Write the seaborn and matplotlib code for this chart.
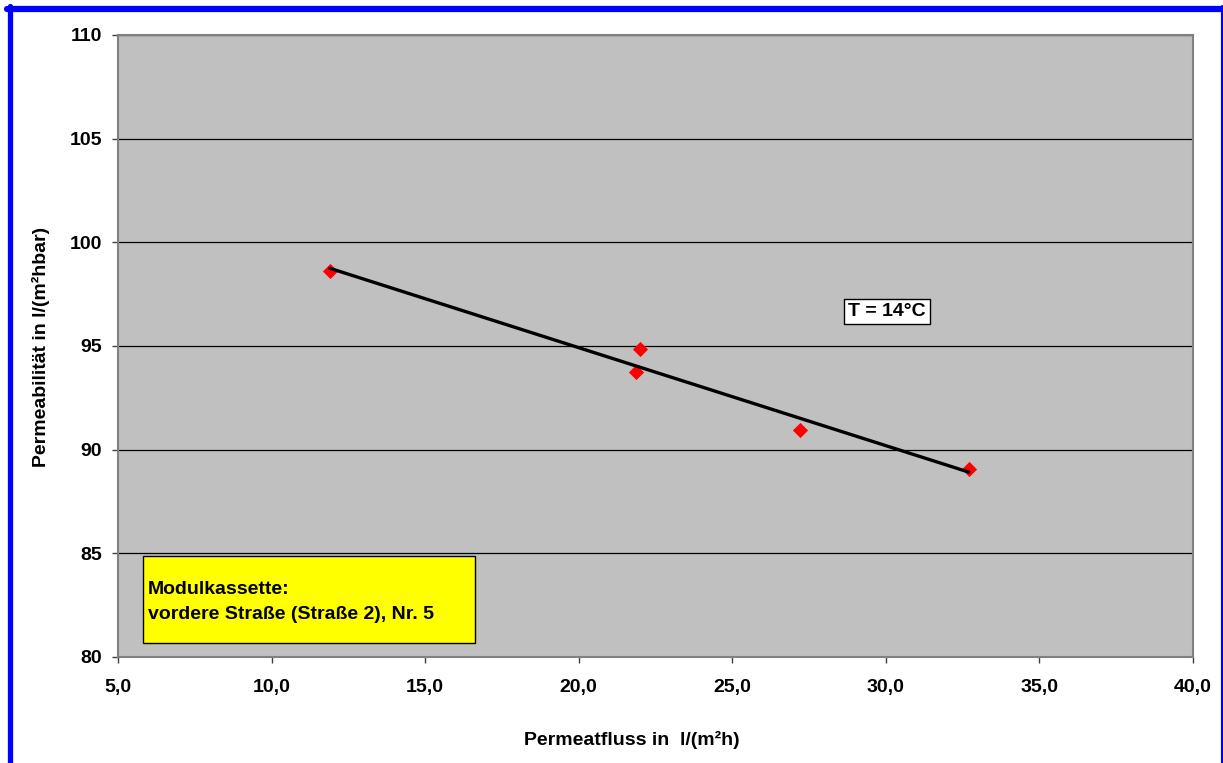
import numpy as np
import pandas as pd
import seaborn as sns
import matplotlib.pyplot as plt
from matplotlib.patches import Rectangle
from matplotlib.lines import Line2D
from matplotlib.ticker import FuncFormatter

permeatfluss = [11.9, 21.85, 22.0, 27.2, 32.7]
permeabilitaet = [98.6, 93.75, 94.85, 90.95, 89.05]

x_ticks = [5, 10, 15, 20, 25, 30, 35, 40]
y_ticks = [80, 85, 90, 95, 100, 105, 110]

df = pd.DataFrame({'fluss': permeatfluss, 'perm': permeabilitaet})

sns.set_style('white')
plt.rcParams['font.family'] = ['Liberation Sans', 'DejaVu Sans']
plt.rcParams['font.weight'] = 'bold'
plt.rcParams['text.color'] = 'black'
plt.rcParams['xtick.labelcolor'] = 'black'
plt.rcParams['ytick.labelcolor'] = 'black'

W, H = 1223, 763
fig = plt.figure(figsize=(W / 100, H / 100), dpi=100)
ax = fig.add_axes([118 / W, 1 - 657 / H, (1193 - 118) / W, (657 - 35) / H])
ax.set_facecolor('#c0c0c0')

# Datenpunkte und lineare Trendlinie
sns.scatterplot(data=df, x='fluss', y='perm', marker='D', color='red', s=60,
                linewidth=0, ax=ax, zorder=3)
sns.regplot(data=df, x='fluss', y='perm', scatter=False, ci=None, ax=ax,
            line_kws={'color': 'black', 'linewidth': 2.4, 'zorder': 4})

ax.set_xlim(5, 40)
ax.set_ylim(80, 110)
ax.set_xticks(x_ticks)
ax.set_yticks(y_ticks)
ax.xaxis.set_major_formatter(FuncFormatter(lambda v, p: f'{v:.1f}'.replace('.', ',')))
ax.yaxis.set_major_formatter(FuncFormatter(lambda v, p: f'{v:.0f}'))
ax.tick_params(axis='both', which='major', labelsize=14, length=4.5, width=1,
               color='#404040', labelcolor='black', direction='out')
ax.tick_params(axis='x', pad=11)
ax.tick_params(axis='y', pad=7)
ax.xaxis.set_ticks_position('bottom')
ax.yaxis.set_ticks_position('left')

ax.yaxis.grid(True, color='black', linewidth=0.9)
ax.xaxis.grid(False)
ax.set_axisbelow(True)
for side in ['left', 'bottom', 'right', 'top']:
    ax.spines[side].set_color('#808080')
    ax.spines[side].set_linewidth(1.5)
    ax.spines[side].set_visible(True)

ax.set_xlabel('')
ax.set_ylabel('')
fig.text(631.5 / W, 1 - 740 / H, 'Permeatfluss in  l/(m²h)', ha='center', va='center',
         fontsize=14, fontweight='bold', color='black')
fig.text(41 / W, 1 - 347 / H, 'Permeabilität in l/(m²hbar)', ha='center', va='center',
         rotation=90, fontsize=14, fontweight='bold', color='black')

# Beschriftungen im Diagramm
ax.text(30.03, 96.67, 'T = 14°C', ha='center', va='center', fontsize=14,
        fontweight='bold', color='black', zorder=5,
        bbox=dict(boxstyle='square,pad=0.22', facecolor='white', edgecolor='black',
                  linewidth=1))
ax.add_patch(Rectangle((5.81, 80.67), 16.63 - 5.81, 84.87 - 80.67, facecolor='#ffff00',
                       edgecolor='black', linewidth=1, zorder=5))
ax.text(5.98, 83.04, 'Modulkassette:', ha='left', va='baseline', fontsize=14,
        fontweight='bold', color='black', zorder=6)
ax.text(5.98, 81.83, 'vordere Straße (Straße 2), Nr. 5', ha='left', va='baseline',
        fontsize=14, fontweight='bold', color='black', zorder=6)

# blauer Rahmen
blue = '#0000ff'
fig.add_artist(Line2D([7 / W, 1221 / W], [1 - 8.5 / H, 1 - 8.5 / H], color=blue,
                      linewidth=4.5, transform=fig.transFigure))
fig.add_artist(Line2D([9.5 / W, 9.5 / W], [0, 1 - 6 / H], color=blue,
                      linewidth=3.8, transform=fig.transFigure))
fig.add_artist(Line2D([1221.5 / W, 1221.5 / W], [0, 1 - 6 / H], color=blue,
                      linewidth=1.5, transform=fig.transFigure))

fig.savefig('out.png', dpi=100, facecolor='white')
